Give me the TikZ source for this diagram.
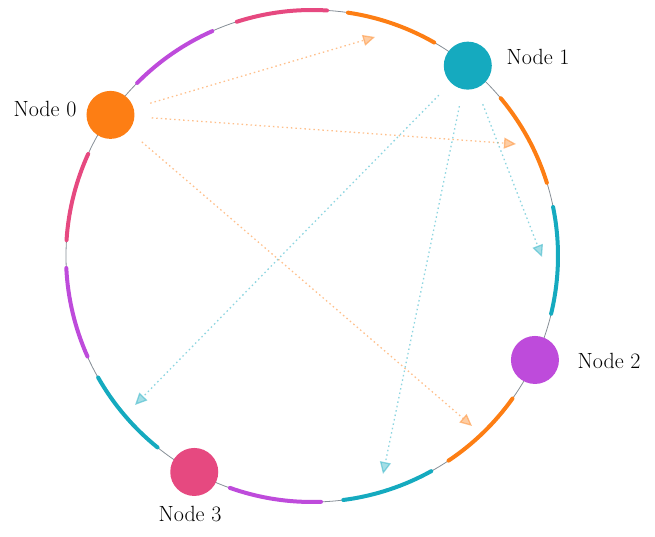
\documentclass[tikz,border=0pt]{standalone}
\usetikzlibrary{arrows.meta,positioning,calc}
\definecolor{ringorange}{HTML}{FD7E14}
\definecolor{ringcyan}{HTML}{15AABF}
\definecolor{ringpurple}{HTML}{BE4BDB}
\definecolor{ringpink}{HTML}{E64980}
\definecolor{ringgray}{HTML}{868E96}
\tikzset{every picture/.style={line width=0.75pt}}
\tikzset{
    ringnode/.style={circle,minimum size=48pt,inner sep=0pt},
    nodelabel/.style={font=\fontsize{22}{24}\selectfont},
    ringseg/.style={line width=4pt,line cap=round},
    lookup/.style={line width=1.3pt,dash pattern=on 1.5pt off 3pt,opacity=0.65,
        shorten <=17pt,-{Triangle[length=12pt,width=11pt,fill=#1!60]},draw=#1!75},
}

\begin{document}
\begin{tikzpicture}[x=1pt,y=1pt]
    \useasboundingbox (0,0) rectangle (655,537);
    \coordinate (c) at (312,281);

    % Ring
    \draw[ringgray,line width=0.8pt] (c) circle (246pt);

    % Owned segments on the ring
    \foreach \col/\a/\b in {ringpurple/135.3/113.9, ringpink/107.8/86.5,
        ringorange/81.6/60.2, ringorange/39.9/17.3, ringcyan/11.5/-13.6,
        ringorange/-35.4/-56.3, ringcyan/-61.0/-82.7, ringpurple/-87.9/-109.5,
        ringcyan/231.1/209.6, ringpurple/204.1/182.8, ringpink/176.3/155.5}
        \draw[ringseg,\col] ([shift={(\a:246pt)}]c) arc[start angle=\a,end angle=\b,radius=246pt];

    % Nodes on the ring
    \node[ringnode,fill=ringorange] (n0) at ($(c)+(145:246pt)$) {};
    \node[ringnode,fill=ringcyan] (n1) at ($(c)+(50.7:246pt)$) {};
    \node[ringnode,fill=ringpurple] (n2) at ($(c)+(-25:246pt)$) {};
    \node[ringnode,fill=ringpink] (n3) at ($(c)+(-118.6:246pt)$) {};

    % Labels
    \node[nodelabel] (l0) at (45,428) {Node 0};
    \node[nodelabel] (l1) at (538,480) {Node 1};
    \node[nodelabel] (l2) at (609,176) {Node 2};
    \node[nodelabel] (l3) at (190,23) {Node 3};

    % Lookup targets
    \coordinate (o1) at (375,500);
    \coordinate (o2) at (516,393);
    \coordinate (o3) at (472,111);
    \coordinate (c1) at (135,132);
    \coordinate (c2) at (383,63);
    \coordinate (c3) at (542,280);

    % Lookups from Node 0 and Node 1
    \draw[lookup=ringorange] (n0) -- (o1);
    \draw[lookup=ringorange] (n0) -- (o2);
    \draw[lookup=ringorange] (n0) -- (o3);
    \draw[lookup=ringcyan] (n1) -- (c1);
    \draw[lookup=ringcyan] (n1) -- (c2);
    \draw[lookup=ringcyan] (n1) -- (c3);
\end{tikzpicture}
\end{document}
